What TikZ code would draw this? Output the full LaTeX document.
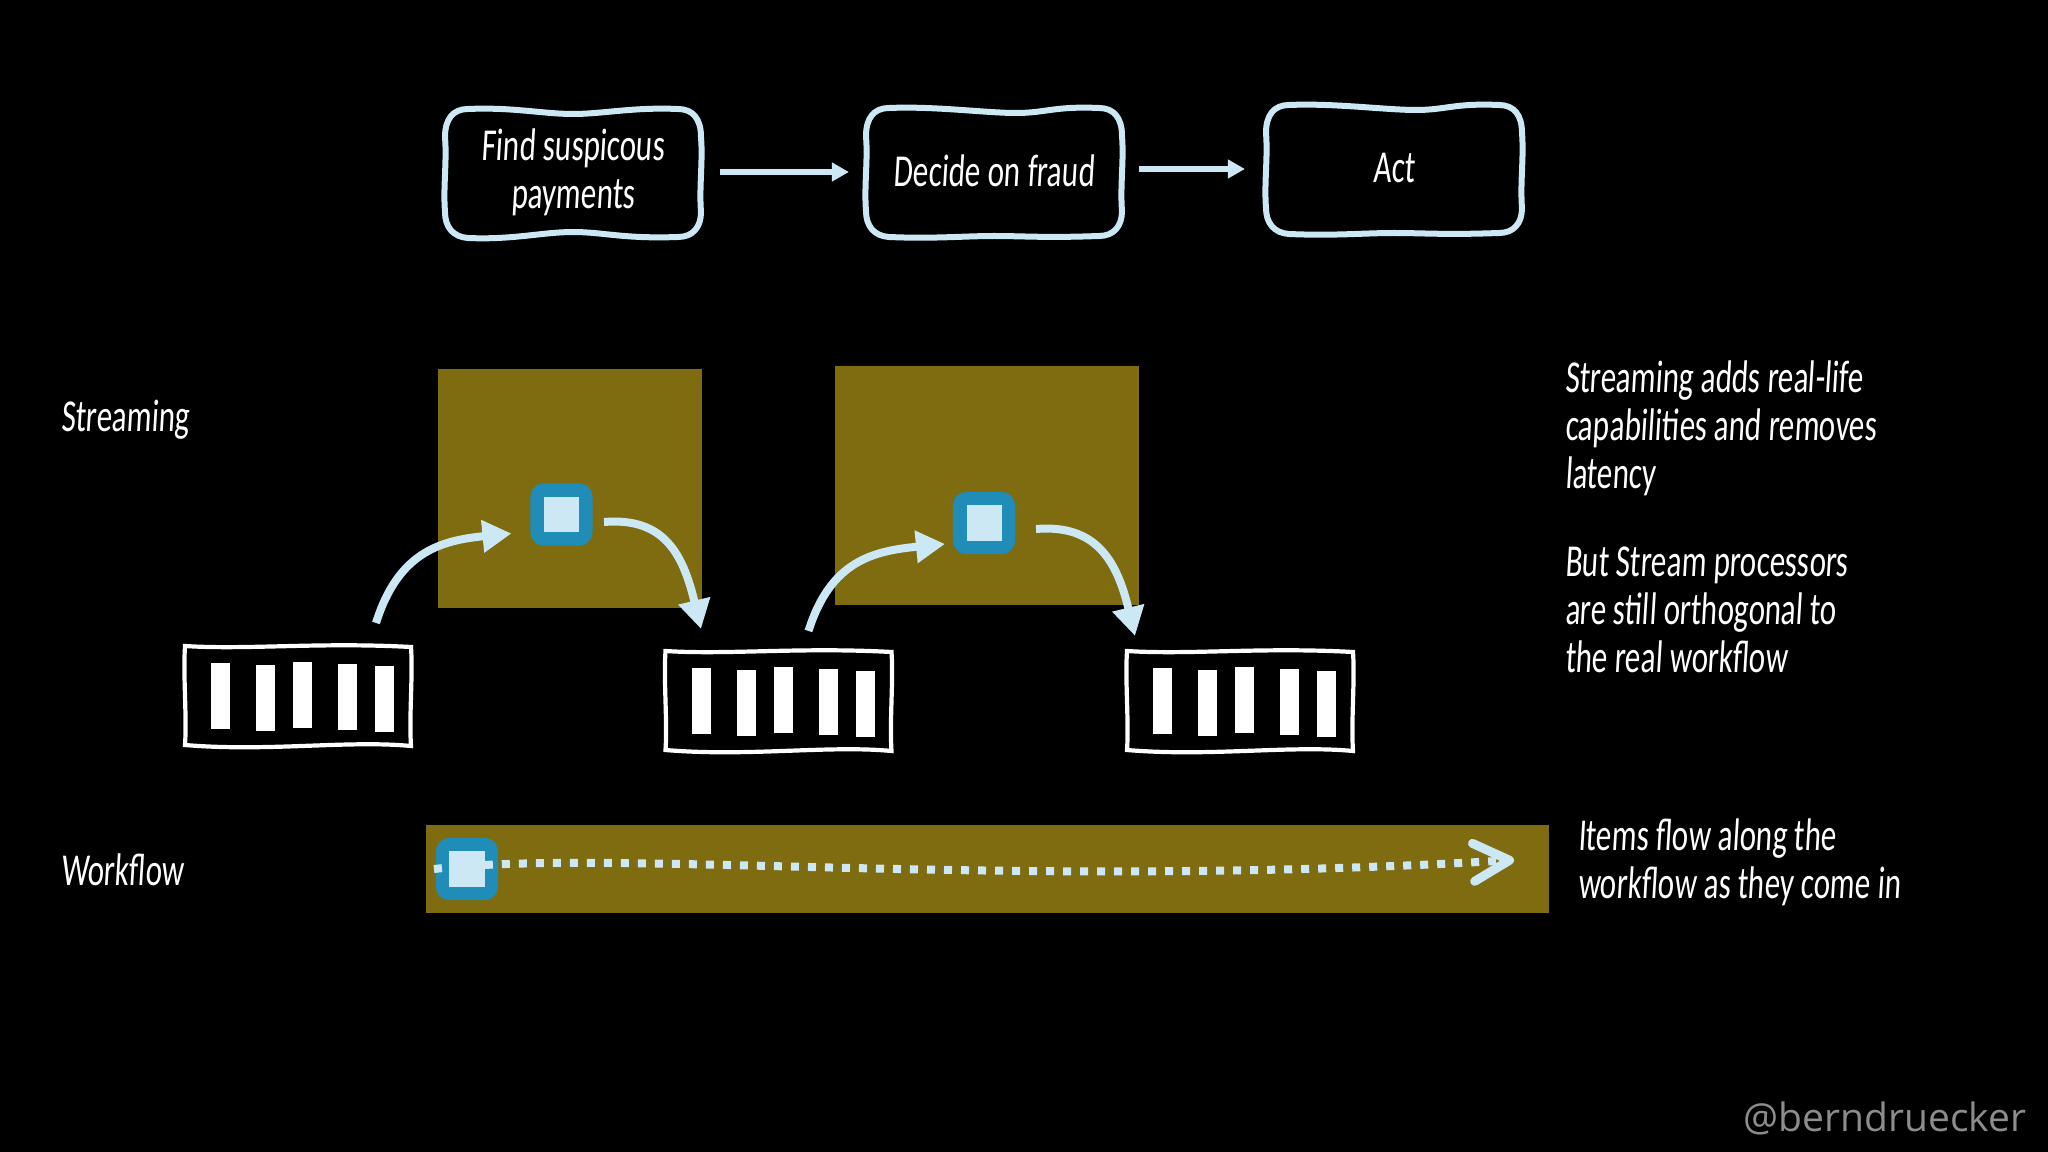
\documentclass[tikz,border=0pt]{standalone}
\usepackage{fontspec}
\usetikzlibrary{arrows.meta,positioning,calc}
\newfontfamily\handfont[FakeStretch=0.68,FakeSlant=0.06]{Carlito}
\newfontfamily\tagfont{Open Sans}
\definecolor{paleblue}{HTML}{CDE8F5}
\definecolor{tokenblue}{HTML}{1F8DB8}
\definecolor{olive}{HTML}{7F6B10}
\tikzset{
    hand/.style={text=white,font=\handfont\fontsize{13}{13.6}\selectfont,align=left,inner sep=0pt,outer sep=0pt},
    stepbox/.style={hand,align=center,minimum width=26mm,minimum height=13.2mm},
    boxline/.style={draw=paleblue,line width=0.6mm,line join=round},
    queue/.style={minimum width=23.2mm,minimum height=10.4mm,inner sep=0pt,outer sep=0pt},
    queueline/.style={draw=white,line width=0.42mm,line join=miter},
    token/.style={fill=tokenblue,rounded corners=1.3mm,minimum size=6.2mm,inner sep=0pt,outer sep=0pt},
    tokencore/.style={fill=paleblue,minimum size=3.5mm,inner sep=0pt,outer sep=0pt},
    flow/.style={draw=paleblue,line width=0.8mm,-{Triangle[length=2.9mm,width=3.1mm]}},
    stepflow/.style={draw=paleblue,line width=0.55mm,-{Triangle[length=1.7mm,width=1.8mm]}},
}

\begin{document}
\begin{tikzpicture}[x=0.01cm,y=-0.01cm]
    \fill [black] (0,0) rectangle (2048,1152);
    \useasboundingbox (0,0) rectangle (2048,1152);

    \fill [olive] (438,369) rectangle (702,608);
    \fill [olive] (835,366) rectangle (1139,605);
    \fill [olive] (426,825) rectangle (1549,913);

    \node [stepbox] (find) at (573,172) {Find suspicous\\payments};
    \node [stepbox] (decide) at (994,171) {Decide on fraud};
    \node [stepbox] (act) at (1394,168) {Act};
    \foreach \n/\tx/\by in {find/0/60,decide/22/65,act/22/65}
        \draw [boxline,shift={(\n.center)}] (-105,-63)
            .. controls (-60,-65) and (\tx-30,-58) .. (\tx,-58)
            .. controls (\tx+30,-58) and (60,-65) .. (105,-63)
            .. controls (120,-63) and (128,-53) .. (128,-35)
            .. controls (130,-10) and (126,15) .. (128,40)
            .. controls (128,55) and (120,65) .. (105,65)
            .. controls (50,67) and (30,\by) .. (0,\by)
            .. controls (-30,\by) and (-60,68) .. (-105,66)
            .. controls (-120,65) and (-128,55) .. (-128,40)
            .. controls (-130,15) and (-126,-10) .. (-128,-35)
            .. controls (-128,-53) and (-120,-63) .. cycle;
    \draw [stepflow,shorten <=1.7mm,shorten >=1.5mm] (find.east) -- (find.east -| decide.west);
    \draw [stepflow,shorten <=1.5mm,shorten >=1.9mm] ([yshift=0.2mm]decide.east) -- ([yshift=0.2mm]decide.east -| act.west);

    \node [queue] (q1) at (298,696) {};
    \node [queue] (q2) at (778.5,701) {};
    \node [queue] (q3) at (1240,701) {};
    \foreach \q in {q1,q2,q3} {
        \draw [queueline,shift={(\q.center)}] (-113,-50)
            .. controls (-50,-46) and (20,-54) .. (113,-49)
            .. controls (115,-20) and (111,20) .. (113,50)
            .. controls (50,44) and (-30,56) .. (-113,49)
            .. controls (-111,20) and (-115,-20) .. cycle;
        \foreach \dx/\dy in {-87/-33,-42/-31,-5/-34,40/-32,77/-30}
            \fill [white] ([shift={(\dx,\dy)}]\q.center) rectangle +(19,66);
    }

    \node [token] (tok1) at (561.5,514.5) {};
    \node [token] (tok2) at (984,523) {};
    \node [token] (tok3) at (467,869) {};
    \draw [draw=paleblue,line width=0.8mm,dash pattern=on 0.8mm off 0.9mm,-{Straight Barb[length=3.6mm,width=3.8mm,line width=0.9mm,round]}]
        ([xshift=-0.2mm]tok3.west) .. controls (620,848) and (1000,890) .. (1514,860) coordinate (wfend);
    \node [tokencore] (core1) at (tok1) {};
    \node [tokencore] (core2) at (tok2) {};
    \node [tokencore] (core3) at (tok3) {};

    \draw [flow] ([shift={(78,-21)}]q1.north) .. controls +(22,-70) and +(-72,7) .. ([shift={(-19,19)}]tok1.west);
    \draw [flow] ([shift={(11.5,7.5)}]tok1.east) .. controls +(60,-5) and +(-18,-75) .. ([shift={(-77.5,-20)}]q2.north);
    \draw [flow] ([shift={(30,-18)}]q2.north) .. controls +(22,-70) and +(-72,7) .. ([shift={(-8,21)}]tok2.west);
    \draw [flow] ([shift={(21,6)}]tok2.east) .. controls +(60,-5) and +(-18,-75) .. ([shift={(-105,-13)}]q3.north);

    \node [hand,anchor=west] (streaming) at (61,420) {Streaming};
    \node [hand,anchor=west] (workflow) at (61,870) {Workflow};
    \node [hand,anchor=west] (note1) at (1565,428) {Streaming adds real-life\\capabilities and removes\\latency};
    \node [hand,anchor=west] (note2) at (1565,610) {But Stream processors\\are still orthogonal to\\the real workflow};
    \node [hand,anchor=west] (note3) at (1578,862) {Items flow along the\\workflow as they come in};
    \node [anchor=east,inner sep=0pt,text=black!45!white,font=\tagfont\fontsize{11.1}{14}\selectfont] (tag) at (2027,1118) {@berndruecker};
\end{tikzpicture}
\end{document}
